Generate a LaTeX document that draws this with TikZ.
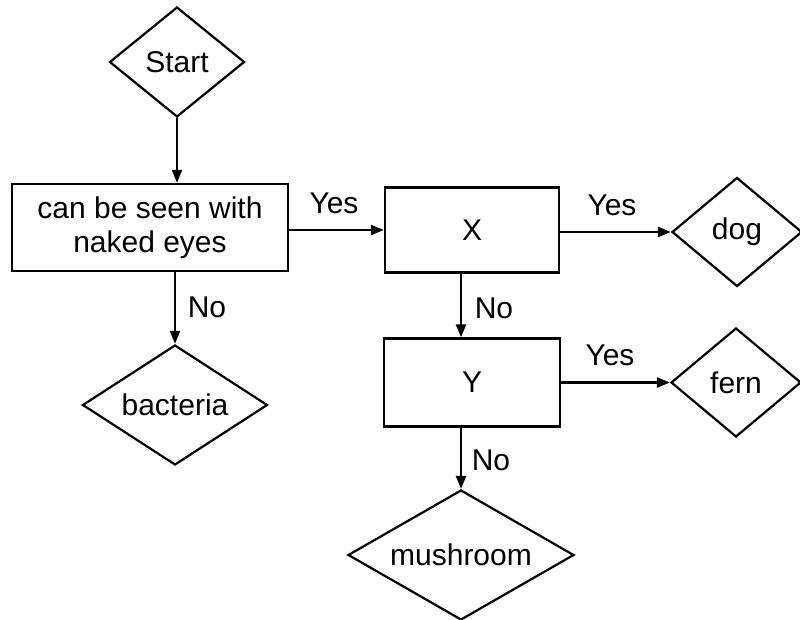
\documentclass[tikz,border=0pt]{standalone}
\usepackage{fontspec}
\setmainfont{Liberation Sans}
\usetikzlibrary{shapes.geometric,arrows.meta}
\begin{document}
\begin{tikzpicture}[x=1pt,y=-1pt,
  every node/.style={font=\fontsize{30}{34}\selectfont},
  dia/.style={draw,diamond,line width=2.2pt,inner sep=0pt,shape aspect=1.7},
  boxx/.style={draw,rectangle,line width=2.4pt,inner sep=0pt,align=center},
  conn/.style={line width=2.4pt,-{Triangle[length=13pt,width=10pt]}},
  lbl/.style={inner sep=0pt}]
\useasboundingbox (0,0) rectangle (800,620);
\node[dia,minimum width=135pt,minimum height=110pt] (start) at (177,62) {Start};
\node[boxx,minimum width=276pt,minimum height=87pt] (b1) at (150,227.5) {can be seen with\\naked eyes};
\node[boxx,minimum width=174pt,minimum height=85pt] (X) at (472,230) {X};
\node[dia,minimum width=130pt,minimum height=109pt] (dog) at (737,232) {dog};
\node[boxx,minimum width=176pt,minimum height=88pt] (Y) at (472,382.5) {Y};
\node[dia,minimum width=130pt,minimum height=109pt] (fern) at (736,382.5) {fern};
\node[dia,minimum width=185pt,minimum height=120pt] (bact) at (175,405) {bacteria};
\node[dia,minimum width=226pt,minimum height=130pt] (mush) at (461,555) {mushroom};
\draw[conn] (start.south) -- (start.south |- b1.north);
\draw[conn] (bact.north |- b1.south) -- (bact.north);
\draw[conn] (b1.east |- X.west) -- (X.west);
\draw[conn] (X.east |- dog.west) -- (dog.west);
\draw[conn] (mush.north |- X.south) -- (mush.north |- Y.north);
\draw[conn] (Y.east) -- (fern.west);
\draw[conn] (mush.north |- Y.south) -- (mush.north);
\node[lbl] (l1) at (334,203) {Yes};
\node[lbl] (l2) at (612,205) {Yes};
\node[lbl] (l3) at (610,355) {Yes};
\node[lbl] (l4) at (207,307) {No};
\node[lbl] (l5) at (494,308) {No};
\node[lbl] (l6) at (491,460) {No};
\end{tikzpicture}
\end{document}
